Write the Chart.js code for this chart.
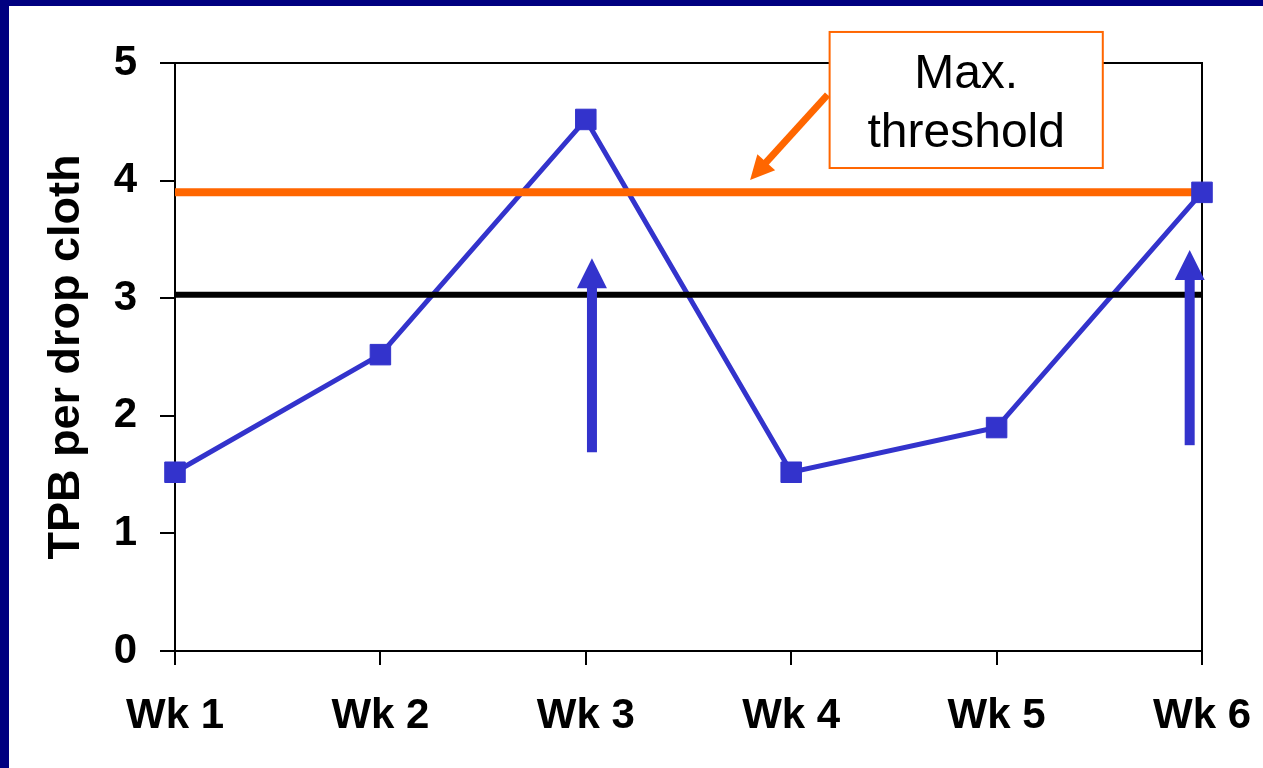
<!DOCTYPE html>
<html>
<head>
<meta charset="utf-8">
<script src="https://cdn.jsdelivr.net/npm/chart.js@4.4.1/dist/chart.umd.min.js"></script>
<style>
  html, body { margin: 0; padding: 0; background: #000080; overflow: hidden; }
  #wrap { position: absolute; left: 9px; top: 6px; width: 1254px; height: 762px; background: #fff; }
</style>
</head>
<body>
<div id="wrap"><canvas id="tpbChart" width="1254" height="762"></canvas></div>
<script>
// categories and values
const weeks = ['Wk 1', 'Wk 2', 'Wk 3', 'Wk 4', 'Wk 5', 'Wk 6'];
const tpbValues = [1.52, 2.52, 4.52, 1.52, 1.9, 3.9];
const maxThreshold = [3.9, 3.9, 3.9, 3.9, 3.9, 3.9];
const baseLevel = [3.03, 3.03, 3.03, 3.03, 3.03, 3.03];
const yTicks = [0, 1, 2, 3, 4, 5];

// annotations (in axis units: category index, y value)
const upArrowX = [2.03, 4.94];
const upArrowFrom = [1.69, 1.75];
const upArrowTo = [3.34, 3.41];
const noteLines = ['Max.', 'threshold'];
const noteBoxX = [3.187, 4.517];
const noteBoxY = [5.264, 4.107];
const noteArrowFrom = [3.177, 4.73];
const noteArrowTo = [2.80, 4.005];

const BLUE = '#3333CC';
const ORANGE = '#FF6600';
const FONT = '"Liberation Sans", Arial, sans-serif';

function arrowHead(ctx, x1, y1, x2, y2, len, width) {
    const a = Math.atan2(y2 - y1, x2 - x1);
    ctx.beginPath();
    ctx.moveTo(x2, y2);
    ctx.lineTo(x2 - len * Math.cos(a) + width / 2 * Math.sin(a), y2 - len * Math.sin(a) - width / 2 * Math.cos(a));
    ctx.lineTo(x2 - len * Math.cos(a) - width / 2 * Math.sin(a), y2 - len * Math.sin(a) + width / 2 * Math.cos(a));
    ctx.closePath();
    ctx.fill();
}

const frameAndNotes = {
    id: 'frameAndNotes',
    beforeDatasetsDraw(chart) {
        const { ctx, chartArea: a } = chart;
        ctx.save();
        ctx.strokeStyle = '#000';
        ctx.lineWidth = 2;
        ctx.beginPath();
        ctx.moveTo(a.left, a.top);
        ctx.lineTo(a.right, a.top);
        ctx.lineTo(a.right, a.bottom);
        ctx.stroke();
        ctx.restore();
    },
    afterDraw(chart) {
        const { ctx } = chart;
        const xs = chart.scales.x, ys = chart.scales.y;
        ctx.save();

        // blue up arrows
        ctx.fillStyle = BLUE;
        upArrowX.forEach((v, i) => {
            const x = xs.getPixelForValue(v);
            const yb = ys.getPixelForValue(upArrowFrom[i]);
            const yt = ys.getPixelForValue(upArrowTo[i]);
            ctx.fillRect(x - 5, yt + 28, 10, yb - yt - 28);
            arrowHead(ctx, x, yb, x, yt, 30, 30);
        });

        // note box
        const bx1 = xs.getPixelForValue(noteBoxX[0]);
        const bx2 = xs.getPixelForValue(noteBoxX[1]);
        const by1 = ys.getPixelForValue(noteBoxY[0]);
        const by2 = ys.getPixelForValue(noteBoxY[1]);
        ctx.fillStyle = '#fff';
        ctx.fillRect(bx1, by1, bx2 - bx1, by2 - by1);
        ctx.strokeStyle = ORANGE;
        ctx.lineWidth = 2;
        ctx.strokeRect(bx1, by1, bx2 - bx1, by2 - by1);
        ctx.fillStyle = '#000';
        ctx.font = '48px ' + FONT;
        ctx.textAlign = 'center';
        ctx.textBaseline = 'alphabetic';
        const cx = (bx1 + bx2) / 2;
        noteLines.forEach((t, i) => ctx.fillText(t, cx, by1 + 56 + i * 59));

        // orange pointer
        const ax1 = xs.getPixelForValue(noteArrowFrom[0]);
        const ay1 = ys.getPixelForValue(noteArrowFrom[1]);
        const ax2 = xs.getPixelForValue(noteArrowTo[0]);
        const ay2 = ys.getPixelForValue(noteArrowTo[1]);
        const ang = Math.atan2(ay2 - ay1, ax2 - ax1);
        ctx.strokeStyle = ORANGE;
        ctx.fillStyle = ORANGE;
        ctx.lineWidth = 7;
        ctx.beginPath();
        ctx.moveTo(ax1, ay1);
        ctx.lineTo(ax2 - 18 * Math.cos(ang), ay2 - 18 * Math.sin(ang));
        ctx.stroke();
        arrowHead(ctx, ax1, ay1, ax2, ay2, 24, 24);

        ctx.restore();
    }
};

new Chart(document.getElementById('tpbChart'), {
    type: 'line',
    data: {
        labels: weeks,
        datasets: [
            {
                label: 'TPB points',
                data: tpbValues,
                showLine: false,
                pointStyle: 'rect',
                pointRadius: 14.5,
                pointBackgroundColor: BLUE,
                pointBorderColor: BLUE,
                pointBorderWidth: 1,
                clip: false,
                order: 0
            },
            {
                label: 'Max. threshold',
                data: maxThreshold,
                borderColor: ORANGE,
                borderWidth: 8,
                pointRadius: 0,
                order: 1
            },
            {
                label: 'Level',
                data: baseLevel,
                borderColor: '#000',
                borderWidth: 6,
                pointRadius: 0,
                order: 2
            },
            {
                label: 'TPB per drop cloth',
                data: tpbValues,
                borderColor: BLUE,
                borderWidth: 5,
                pointRadius: 0,
                tension: 0,
                clip: false,
                order: 3
            }
        ]
    },
    options: {
        responsive: false,
        animation: false,
        events: [],
        layout: { padding: { top: 57, right: 61, left: 0, bottom: 0 } },
        plugins: { legend: { display: false }, tooltip: { enabled: false } },
        scales: {
            x: {
                offset: false,
                grid: { display: true, drawOnChartArea: false, drawTicks: true, tickLength: 14, color: '#000', lineWidth: 2 },
                border: { display: true, color: '#000', width: 2 },
                ticks: { color: '#000', padding: 26, maxRotation: 0, font: { family: FONT, size: 42, weight: 'bold' } },
                afterFit: s => { s.height = 117; s.paddingLeft = 0; s.paddingRight = 0; }
            },
            y: {
                min: 0,
                max: 5,
                afterBuildTicks: s => { s.ticks = yTicks.map(v => ({ value: v })); },
                grid: { display: true, drawOnChartArea: false, drawTicks: true, tickLength: 15, color: '#000', lineWidth: 2 },
                border: { display: true, color: '#000', width: 2 },
                ticks: { color: '#000', padding: 23, font: { family: FONT, size: 42, weight: 'bold' } },
                title: {
                    display: true,
                    text: 'TPB per drop cloth',
                    color: '#000',
                    padding: { top: 31, bottom: 0 },
                    font: { family: FONT, size: 45, weight: 'bold' }
                },
                afterFit: s => { s.width = 166; s.paddingTop = 0; s.paddingBottom = 0; }
            }
        }
    },
    plugins: [frameAndNotes]
});
</script>
</body>
</html>
